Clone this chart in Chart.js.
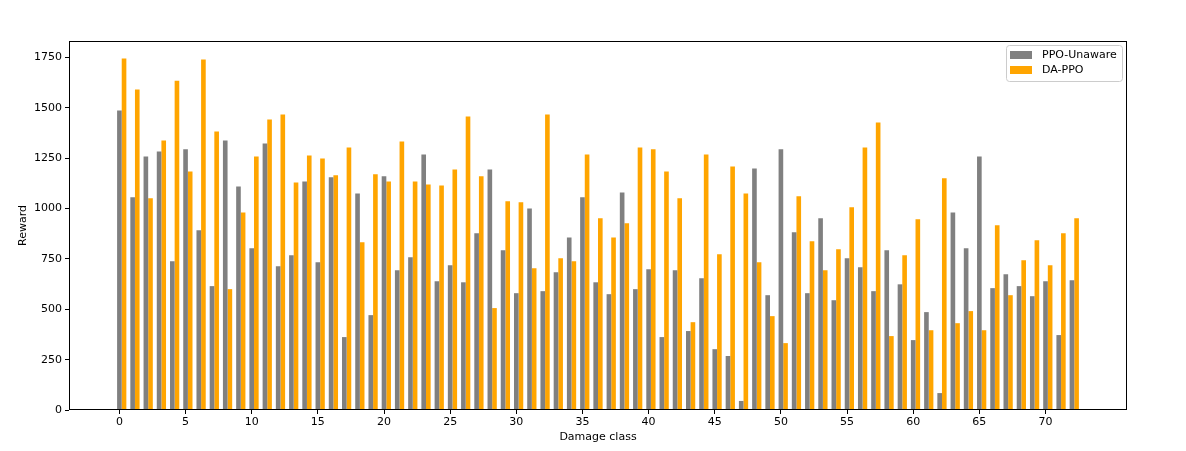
<!DOCTYPE html>
<html>
<head>
<meta charset="utf-8">
<script src="https://cdn.jsdelivr.net/npm/chart.js@4/dist/chart.umd.min.js"></script>
<style>
  body { margin: 0; background: #fff; }
  canvas { display: block; }
</style>
</head>
<body>
<canvas id="chart" width="1186" height="451"></canvas>
<script>
// damage classes 0..72
const damageClasses = [
    0, 1, 2, 3, 4, 5, 6, 7, 8, 9, 10, 11, 12, 13, 14, 15, 16, 17, 18, 19,
    20, 21, 22, 23, 24, 25, 26, 27, 28, 29, 30, 31, 32, 33, 34, 35, 36, 37, 38, 39,
    40, 41, 42, 43, 44, 45, 46, 47, 48, 49, 50, 51, 52, 53, 54, 55, 56, 57, 58, 59,
    60, 61, 62, 63, 64, 65, 66, 67, 68, 69, 70, 71, 72
]

const ppoUnaware = [
    1487, 1056, 1259, 1284, 738, 1294, 892, 615, 1338, 1110,
    803, 1323, 714, 768, 1135, 733, 1155, 362, 1075, 471,
    1160, 694, 758, 1269, 639, 719, 634, 877, 1194, 793,
    580, 1001, 590, 684, 857, 1056, 634, 575, 1080, 600,
    699, 362, 694, 392, 654, 302, 268, 45, 1199, 570,
    1294, 882, 580, 952, 545, 753, 709, 590, 793, 624,
    347, 486, 84, 981, 803, 1259, 605, 674, 615, 565,
    639, 372, 644
]

const daPpo = [
    1745, 1591, 1051, 1338, 1635, 1184, 1740, 1383, 600, 981,
    1259, 1442, 1467, 1130, 1264, 1249, 1165, 1303, 833, 1170,
    1135, 1333, 1135, 1120, 1115, 1194, 1457, 1160, 506, 1036,
    1031, 704, 1467, 753, 738, 1269, 952, 857, 927, 1303,
    1294, 1184, 1051, 436, 1269, 773, 1209, 1075, 733, 466,
    332, 1061, 838, 694, 798, 1006, 1303, 1427, 367, 768,
    947, 396, 1150, 431, 491, 396, 917, 570, 743, 843,
    719, 877, 952
]

const xTicks = [0, 5, 10, 15, 20, 25, 30, 35, 40, 45, 50, 55, 60, 65, 70]
const yTicks = [0, 250, 500, 750, 1000, 1250, 1500, 1750]

const barWidth = 0.35
const FONT = 'DejaVu Sans'

// bars sit at x and x + barWidth, like the grouped matplotlib plot
const groupCenter = (x) => x + barWidth / 2

const framePlugin = {
    id: 'frame',
    afterDatasetsDraw(chart) {
        const {ctx, chartArea: a} = chart
        ctx.save()
        ctx.strokeStyle = '#000'
        ctx.lineWidth = 1
        ctx.strokeRect(Math.round(a.left) + 0.5, Math.round(a.top) + 0.5,
            Math.round(a.right - a.left) - 1, Math.round(a.bottom - a.top) - 1)
        ctx.restore()
    }
}

const legendPlugin = {
    id: 'boxLegend',
    afterDraw(chart) {
        const {ctx, chartArea: a} = chart
        const sets = chart.data.datasets
        const w = 116, h = 36
        const x0 = a.right - w - 5, y0 = a.top + 4
        ctx.save()
        ctx.fillStyle = 'rgba(255,255,255,0.8)'
        ctx.strokeStyle = '#cccccc'
        ctx.lineWidth = 1
        ctx.beginPath()
        ctx.roundRect(x0 + 0.5, y0 + 0.5, w, h, 3)
        ctx.fill()
        ctx.stroke()
        ctx.font = '11px ' + FONT
        ctx.textBaseline = 'middle'
        sets.forEach((ds, i) => {
            const cy = y0 + 10 + i * 15
            ctx.fillStyle = ds.backgroundColor
            ctx.fillRect(x0 + 4, cy - 4, 22, 8)
            ctx.fillStyle = '#000'
            ctx.fillText(ds.label, x0 + 36, cy)
        })
        ctx.restore()
    }
}

const axisTicks = {
    display: true,
    offset: false,
    drawOnChartArea: false,
    drawTicks: true,
    tickLength: 4,
    tickColor: '#000',
    tickWidth: 1
}

new Chart(document.getElementById('chart'), {
    type: 'bar',
    data: {
        datasets: [
            {
                label: 'PPO-Unaware',
                data: damageClasses.map((c, i) => ({x: groupCenter(c), y: ppoUnaware[i]})),
                backgroundColor: '#808080'
            },
            {
                label: 'DA-PPO',
                data: damageClasses.map((c, i) => ({x: groupCenter(c), y: daPpo[i]})),
                backgroundColor: '#ffa500'
            }
        ]
    },
    options: {
        responsive: false,
        devicePixelRatio: 1,
        animation: false,
        categoryPercentage: barWidth * 2,
        barPercentage: 1,
        layout: {padding: {top: 41, right: 59, bottom: 0, left: 0}},
        plugins: {
            legend: {display: false},
            tooltip: {enabled: false}
        },
        scales: {
            x: {
                type: 'linear',
                offset: false,
                min: -3.81,
                max: 76.16,
                grid: axisTicks,
                border: {display: false},
                afterBuildTicks: (scale) => { scale.ticks = xTicks.map(v => ({value: v})) },
                afterFit: (scale) => { scale.height = 41 },
                ticks: {
                    color: '#000',
                    font: {family: FONT, size: 11},
                    padding: 2,
                    maxRotation: 0,
                    autoSkip: false,
                    callback: (v) => String(v)
                },
                title: {
                    display: true,
                    text: 'Damage class',
                    color: '#000',
                    font: {family: FONT, size: 11},
                    padding: {top: 0, bottom: 7}
                }
            },
            y: {
                min: 0,
                max: 1832,
                grid: axisTicks,
                border: {display: false},
                afterBuildTicks: (scale) => { scale.ticks = yTicks.map(v => ({value: v})) },
                afterFit: (scale) => { scale.width = 69 },
                ticks: {
                    color: '#000',
                    font: {family: FONT, size: 11},
                    padding: 3,
                    autoSkip: false,
                    callback: (v) => String(v)
                },
                title: {
                    display: true,
                    text: 'Reward',
                    color: '#000',
                    font: {family: FONT, size: 11},
                    padding: {top: 17, bottom: 0}
                }
            }
        }
    },
    plugins: [framePlugin, legendPlugin]
})
</script>
</body>
</html>
